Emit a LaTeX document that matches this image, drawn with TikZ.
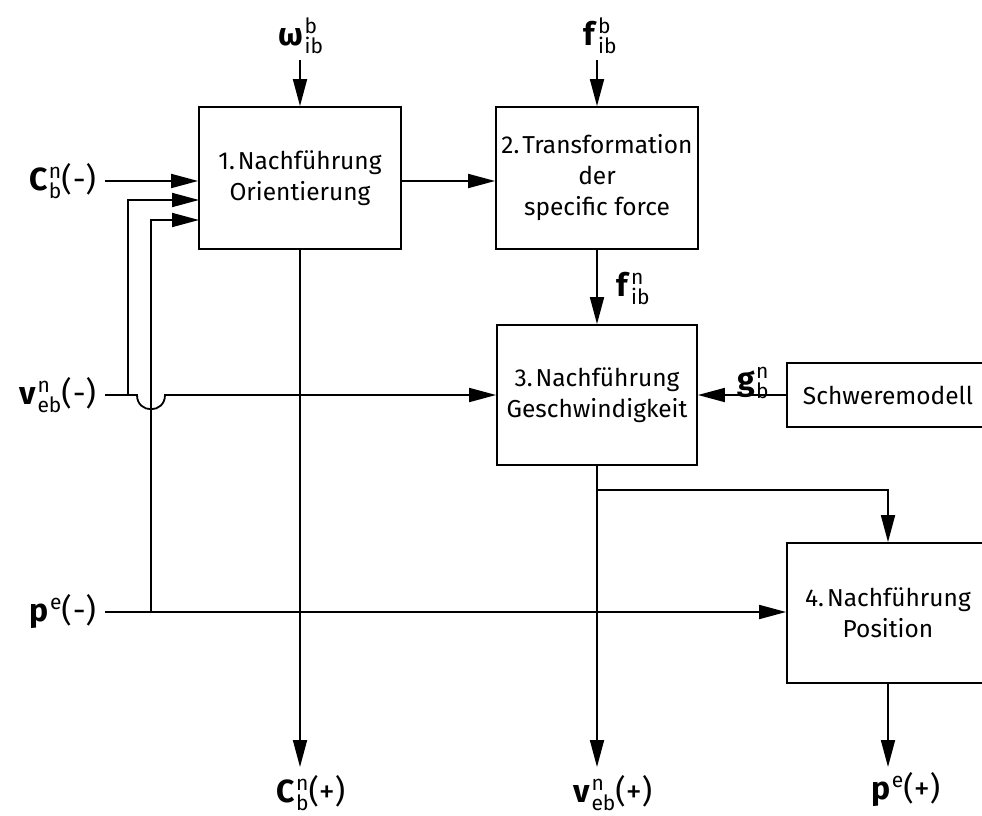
\documentclass[tikz,border=0pt]{standalone}
\usepackage{fontspec}
\setmainfont{Fira Sans}
\usetikzlibrary{arrows.meta}
\newcommand\boxfont{\fontsize{24.5}{31}\selectfont}
\newcommand\labfont{\fontsize{32}{36}\selectfont}
\newcommand\scr{\fontseries{m}\fontsize{21}{21}\selectfont}
\newcommand\vsym[3]{\textbf{#1}\hspace{1pt}{\scr\makebox[0pt][l]{\raisebox{12pt}{#3}}\raisebox{-8pt}{#2}}}
\newcommand\psym[1]{\textbf{p}\hspace{1pt}{\scr\raisebox{12pt}{#1}}}
\newcommand\nsp{\hspace{0.12em}}
\begin{document}
\begin{tikzpicture}[x=1pt,y=-1pt,line width=1.8pt,
  box/.style={draw,line width=1.8pt,align=center,inner sep=0pt,font=\boxfont},
  lab/.style={inner sep=0pt,font=\labfont},
  arr/.style={-{Triangle[length=27pt,width=14pt]}}]
\useasboundingbox (0,0) rectangle (982,816);
% boxes
\node[box,minimum width=202pt,minimum height=142pt] (b1) at (300,178) {1.\nsp Nachführung\\Orientierung};
\node[box,minimum width=202pt,minimum height=142pt] (b2) at (597,178) {2.\nsp Transformation\\der\\specific force};
\node[box,minimum width=200pt,minimum height=140pt] (b3) at (597,395) {3.\nsp Nachführung\\Geschwindigkeit};
\node[box,minimum width=202pt,minimum height=64pt] (sm) at (888,395) {Schweremodell};
\node[box,minimum width=202pt,minimum height=140pt] (b4) at (888,613) {4.\nsp Nachführung\\Position};
% labels
\node[lab] (om) at (301,36) {\vsym{ω}{ib}{b}};
\node[lab] (fb) at (600,36) {\vsym{f}{ib}{b}};
\node[lab,anchor=east] (cin) at (97,181) {\vsym{C}{b}{n}(\hspace{1pt}-)};
\node[lab,anchor=east] (vin) at (97,395) {\vsym{v}{eb}{n}(\hspace{1pt}-)};
\node[lab,anchor=east] (pin) at (97,612) {\psym{e}(\hspace{1pt}-)};
\node[lab] (fn) at (633,288) {\vsym{f}{ib}{n}};
\node[lab] (gn) at (753,383) {\vsym{g}{b}{n}};
\node[lab] (cout) at (311,793) {\vsym{C}{b}{n}(+)};
\node[lab] (vout) at (613,793) {\vsym{v}{eb}{n}(+)};
\node[lab] (pout) at (906,790) {\psym{e}(+)};
% coordinates
\coordinate (omt) at (300,60);
\coordinate (fbt) at (597,60);
\coordinate (cs) at (105,181);
\coordinate (vs) at (105,395);
\coordinate (ps) at (105,612);
\coordinate (j1) at (128,395);
\coordinate (j2) at (151,612);
\coordinate (a2) at (199,200);
\coordinate (a3) at (199,220);
\coordinate (br) at (597,490);
\coordinate (e1) at (300,767);
\coordinate (e3) at (597,767);
\coordinate (e4) at (888,767);
% connectors
\draw[arr] (omt) -- (b1.north);
\draw[arr] (fbt) -- (b2.north);
\draw[arr] (cs) -- (cs -| b1.west);
\draw[arr] (j1) |- (a2);
\draw[arr] (j2) |- (a3);
\draw[arr] (vs) -- (137,395) .. controls (137,414) and (165,414) .. (165,395) -- (vs -| b3.west);
\draw[arr] (ps) -- (ps -| b4.west);
\draw[arr] (b1.east |- cs) -- (cs -| b2.west);
\draw[arr] (b2.south) -- (b3.north);
\draw[arr] (sm.west) -- (sm.west -| b3.east);
\draw[arr] (b1.south) -- (e1);
\draw[arr] (b3.south) -- (e3);
\draw[arr] (br) -| (b4.north);
\draw[arr] (b4.south) -- (e4);
\end{tikzpicture}
\end{document}
